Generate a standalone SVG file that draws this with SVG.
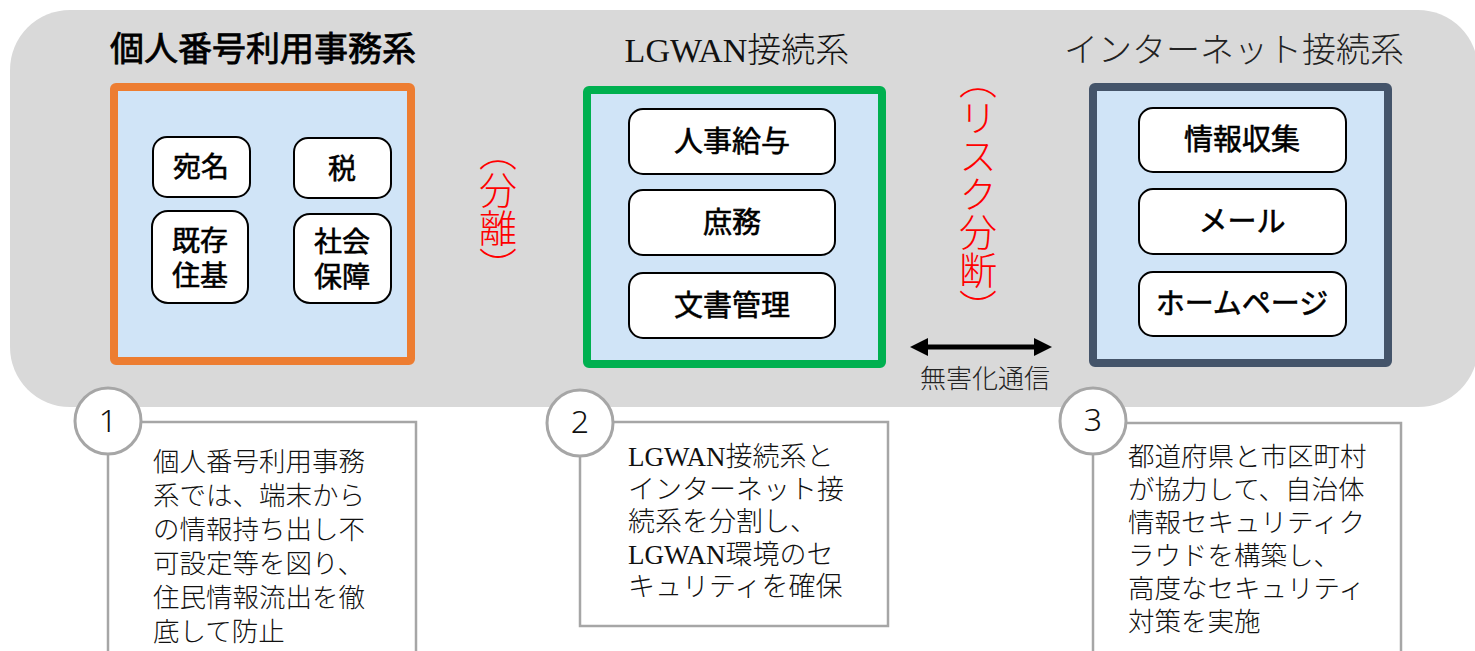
<svg xmlns="http://www.w3.org/2000/svg" width="1475" height="651" viewBox="0 0 1475 651">
<defs>
<style>
.sys{stroke-width:8;fill:#D0E4F7}
.item{fill:#fff;stroke:#000;stroke-width:2}
.itxt{font-family:"Noto Sans CJK JP",sans-serif;font-size:29px;font-weight:400;fill:#000;stroke:#000;stroke-width:0.6;text-anchor:middle}
.stxt{font-family:"Noto Sans CJK JP",sans-serif;font-size:28px;font-weight:400;fill:#000;stroke:#000;stroke-width:0.6;text-anchor:middle}
.note{fill:#fff;stroke:#A6A6A6;stroke-width:2.5}
.num{fill:#fff;stroke:#A6A6A6;stroke-width:3}
.numt{font-family:"Noto Sans",sans-serif;font-weight:300;font-size:32px;fill:#111;text-anchor:middle}
.gtxt{font-family:"Noto Sans CJK JP",sans-serif;font-weight:300;font-size:26.5px;fill:#111}
.mtxt{font-family:"Liberation Serif","Noto Sans CJK JP",serif;font-weight:300;font-size:27px;fill:#111}
.red{font-family:"Noto Sans CJK JP",sans-serif;font-weight:300;font-size:38px;fill:#FF0000;writing-mode:vertical-rl;text-anchor:middle}
</style>
<marker id="ah" markerUnits="userSpaceOnUse" markerWidth="20" markerHeight="18" viewBox="0 0 20 18" refX="0" refY="9" orient="auto-start-reverse">
<path d="M0,0 L18,9 L0,18 Z" fill="#000"/>
</marker>
</defs>

<rect id="bg" x="10" y="10" width="1468" height="397" rx="60" ry="60" fill="#D9D9D9"/>

<g id="sys1">
<text x="263" y="61" font-family="Noto Sans CJK JP, sans-serif" font-size="34" font-weight="400" stroke="#000" stroke-width="0.8" text-anchor="middle" fill="#000">個人番号利用事務系</text>
<rect class="sys" x="114" y="87" width="297" height="274" rx="2" stroke="#ED7D31"/>
<g id="n-atena"><rect class="item" x="153" y="137" width="97" height="60" rx="14"/><text class="stxt" x="201" y="177">宛名</text></g>
<g id="n-zei"><rect class="item" x="294" y="138" width="97" height="60" rx="14"/><text class="stxt" x="342" y="179">税</text></g>
<g id="n-kizon"><rect class="item" x="152" y="211" width="96" height="92" rx="16"/><text class="stxt" x="200" y="251">既存</text><text class="stxt" x="200" y="286">住基</text></g>
<g id="n-shakai"><rect class="item" x="294" y="214" width="97" height="89" rx="16"/><text class="stxt" x="342" y="252">社会</text><text class="stxt" x="342" y="287">保障</text></g>
</g>

<g id="sys2">
<text x="737" y="62" font-family="Liberation Serif, Noto Sans CJK JP, serif" font-size="34" font-weight="300" text-anchor="middle" fill="#111">LGWAN接続系</text>
<rect class="sys" x="587" y="90" width="295" height="274" rx="2" stroke="#00B050"/>
<g id="n-jinji"><rect class="item" x="629" y="109" width="206" height="65" rx="14"/><text class="itxt" x="732" y="152">人事給与</text></g>
<g id="n-shomu"><rect class="item" x="629" y="190" width="206" height="65" rx="14"/><text class="itxt" x="732" y="233">庶務</text></g>
<g id="n-bunsho"><rect class="item" x="629" y="273" width="206" height="65" rx="14"/><text class="itxt" x="732" y="316">文書管理</text></g>
</g>

<g id="sys3">
<text x="1234" y="62" font-family="Noto Sans CJK JP, sans-serif" font-size="34" font-weight="300" text-anchor="middle" fill="#222">インターネット接続系</text>
<rect class="sys" x="1093" y="87" width="295" height="276" rx="2" stroke="#44546A"/>
<g id="n-joho"><rect class="item" x="1139" y="108" width="207" height="64" rx="14"/><text class="itxt" x="1242" y="150">情報収集</text></g>
<g id="n-mail"><rect class="item" x="1139" y="189" width="207" height="65" rx="14"/><text class="itxt" x="1242" y="232">メール</text></g>
<g id="n-home"><rect class="item" x="1139" y="272" width="207" height="64" rx="14"/><text class="itxt" x="1242" y="314">ホームページ</text></g>
</g>

<g id="labels">
<text class="red" x="498" y="209">（分離）</text>
<text class="red" x="978" y="194">（リスク分断）</text>
<text x="985" y="388" font-family="Noto Sans CJK JP, sans-serif" font-size="26" font-weight="300" text-anchor="middle" fill="#222">無害化通信</text>
</g>

<g id="connectors">
<line x1="928" y1="347" x2="1034" y2="347" stroke="#000" stroke-width="5" marker-start="url(#ah)" marker-end="url(#ah)"/>
</g>

<g id="note1">
<rect class="note" x="108" y="422" width="308" height="260"/>
<circle class="num" cx="108" cy="421" r="33"/>
<text class="numt" x="108" y="432">1</text>
<text class="gtxt" x="153"><tspan x="153" y="471">個人番号利用事務</tspan><tspan x="153" y="505">系では、端末から</tspan><tspan x="153" y="539">の情報持ち出し不</tspan><tspan x="153" y="573">可設定等を図り、</tspan><tspan x="153" y="607">住民情報流出を徹</tspan><tspan x="153" y="641">底して防止</tspan></text>
</g>

<g id="note2">
<rect class="note" x="580" y="422" width="308" height="204"/>
<circle class="num" cx="580" cy="423" r="33"/>
<text class="numt" x="580" y="433">2</text>
<text class="mtxt" x="628"><tspan x="628" y="466">LGWAN接続系と</tspan><tspan x="628" y="498.5">インターネット接</tspan><tspan x="628" y="531">続系を分割し、</tspan><tspan x="628" y="563.5">LGWAN環境のセ</tspan><tspan x="628" y="596">キュリティを確保</tspan></text>
</g>

<g id="note3">
<rect class="note" x="1093" y="423" width="308" height="260"/>
<circle class="num" cx="1093" cy="421" r="33"/>
<text class="numt" x="1093" y="431">3</text>
<text class="gtxt" x="1128"><tspan x="1128" y="466">都道府県と市区町村</tspan><tspan x="1128" y="499">が協力して、自治体</tspan><tspan x="1128" y="532">情報セキュリティク</tspan><tspan x="1128" y="565">ラウドを構築し、</tspan><tspan x="1128" y="598">高度なセキュリティ</tspan><tspan x="1128" y="631">対策を実施</tspan></text>
</g>
</svg>
